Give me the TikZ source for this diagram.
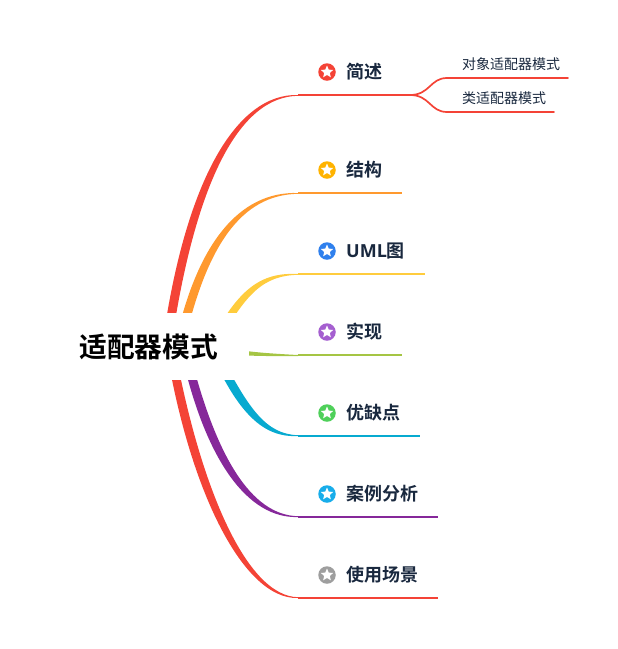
\documentclass[tikz,border=0pt]{standalone}
\usepackage{fontspec}
\setmainfont{Noto Sans CJK SC}[BoldFont={* Bold}]
\newfontfamily\latinfont{Open Sans}
\usetikzlibrary{shapes.geometric}
\definecolor{cinnabar}{RGB}{244, 67, 54}
\definecolor{tangerine}{RGB}{255, 153, 46}
\definecolor{sunflower}{RGB}{255, 204, 61}
\definecolor{avocado}{RGB}{165, 197, 68}
\definecolor{peacock}{RGB}{7, 170, 208}
\definecolor{plum}{RGB}{134, 40, 154}
\definecolor{amber}{RGB}{255, 179, 0}
\definecolor{azure}{RGB}{47, 128, 237}
\definecolor{lavender}{RGB}{165, 95, 208}
\definecolor{emerald}{RGB}{79, 208, 90}
\definecolor{skyblue}{RGB}{24, 173, 234}
\definecolor{ash}{RGB}{158, 158, 158}
\definecolor{inkblue}{RGB}{25, 40, 62}
\tikzset{
  rootbox/.style={fill=white, inner xsep=10pt, inner ysep=0pt, text width=159pt, align=left, minimum height=67.3pt, font=\fontsize{27.7}{30}\selectfont\bfseries},
  topiclabel/.style={anchor=west, inner sep=0pt, text=inkblue, font=\fontsize{18}{20}\selectfont\bfseries},
  sublabel/.style={anchor=west, inner sep=0pt, text=inkblue, font=\fontsize{14}{16}\selectfont},
  topicicon/.style={circle, minimum size=17.5pt, inner sep=0pt},
  staricon/.style={star, star points=5, star point ratio=2.2, fill=white, minimum size=13pt, inner sep=0pt},
  branchline/.style={line width=1.6pt},
  subline/.style={line width=1.7pt, line cap=round}
}
\begin{document}
\begin{tikzpicture}[x=1pt, y=-1pt]
  \useasboundingbox (0, 0) rectangle (618, 649);
  % Branch joints
  \coordinate (simpleEnd)  at (298,  95);
  \coordinate (structEnd)  at (298, 193);
  \coordinate (umlEnd)     at (298, 274);
  \coordinate (implEnd)    at (298, 355);
  \coordinate (prosEnd)    at (298, 436);
  \coordinate (caseEnd)    at (298, 517);
  \coordinate (usageEnd)   at (298, 598);
  % Tapered branches
  \fill[cinnabar]  (162, 347) .. controls (185, 179) and (237,  93.2) .. (simpleEnd) -- (298,  95.8) .. controls (239.5,  96.8) and (195, 181) .. (171, 347) -- cycle;
  \fill[tangerine] (174.5, 347) .. controls (196, 244) and (239, 191.2) .. (structEnd) -- (298, 193.8) .. controls (241, 194.8) and (206, 246) .. (183.5, 347) -- cycle;
  \fill[sunflower] (208, 347) .. controls (238, 287) and (262, 272.2) .. (umlEnd)    -- (298, 274.8) .. controls (263, 275.8) and (246, 293) .. (216, 347) -- cycle;
  \fill[avocado]   (235, 349.5) .. controls (255, 352.5) and (275, 353.8) .. (implEnd)   -- (298, 356) .. controls (275, 356.3) and (255, 356) .. (235, 355) -- cycle;
  \fill[peacock]   (208.5, 347) .. controls (238, 415) and (264, 437.8) .. (prosEnd)   -- (298, 435.2) .. controls (266, 434.2) and (248, 409) .. (217, 347) -- cycle;
  \fill[plum]      (180, 347) .. controls (205, 463) and (249, 518.8) .. (caseEnd)   -- (298, 516.2) .. controls (251.5, 515.2) and (215, 457) .. (188.5, 347) -- cycle;
  \fill[cinnabar]  (166, 347) .. controls (190, 493) and (244, 599.8) .. (usageEnd)  -- (298, 597.2) .. controls (246.5, 596.2) and (200, 487) .. (174.5, 347) -- cycle;
  % Central topic
  \node[rootbox] (root) at (159, 346.5) {\raisebox{-0.6pt}{适配器模式}};
  % Topic underlines
  \coordinate (simpleFork) at (410,  95);
  \draw[branchline, cinnabar]  (simpleEnd) -- (simpleFork);
  \draw[branchline, tangerine] (structEnd) -- (402, 193);
  \draw[branchline, sunflower] (umlEnd)    -- (425, 274);
  \draw[branchline, avocado]   (implEnd)   -- (402, 355);
  \draw[branchline, peacock]   (prosEnd)   -- (420, 436);
  \draw[branchline, plum]      (caseEnd)   -- (438, 517);
  \draw[branchline, cinnabar]  (usageEnd)  -- (438, 598);
  % Sub topics
  \coordinate (objectKnee) at (447,  78);
  \coordinate (classKnee)  at (447, 112);
  \draw[subline, cinnabar] (simpleFork) .. controls (430,  95) and (430,  78) .. (objectKnee) -- (568,  78);
  \draw[subline, cinnabar] (simpleFork) .. controls (430,  95) and (430, 112) .. (classKnee)  -- (554, 112);
  \node[sublabel] (objectText) at (462,  64) {对象适配器模式};
  \node[sublabel] (classText)  at (462,  98) {类适配器模式};
  % Icons and labels
  \node[topicicon, fill=cinnabar] (simpleIcon) at (327,  72) {};
  \node[staricon] at (simpleIcon) {};
  \node[topiclabel] (simpleText) at (346,  72) {简述};
  \node[topicicon, fill=amber]    (structIcon) at (327, 170) {};
  \node[staricon] at (structIcon) {};
  \node[topiclabel] (structText) at (346, 170) {结构};
  \node[topicicon, fill=azure]    (umlIcon)    at (327, 251) {};
  \node[staricon] at (umlIcon) {};
  \node[topiclabel] (umlText)    at (346, 251) {{\latinfont\bfseries UML}图};
  \node[topicicon, fill=lavender] (implIcon)   at (327, 332) {};
  \node[staricon] at (implIcon) {};
  \node[topiclabel] (implText)   at (346, 332) {实现};
  \node[topicicon, fill=emerald]  (prosIcon)   at (327, 413) {};
  \node[staricon] at (prosIcon) {};
  \node[topiclabel] (prosText)   at (346, 413) {优缺点};
  \node[topicicon, fill=skyblue]  (caseIcon)   at (327, 494) {};
  \node[staricon] at (caseIcon) {};
  \node[topiclabel] (caseText)   at (346, 494) {案例分析};
  \node[topicicon, fill=ash]      (usageIcon)  at (327, 575) {};
  \node[staricon] at (usageIcon) {};
  \node[topiclabel] (usageText)  at (346, 575) {使用场景};
\end{tikzpicture}
\end{document}
